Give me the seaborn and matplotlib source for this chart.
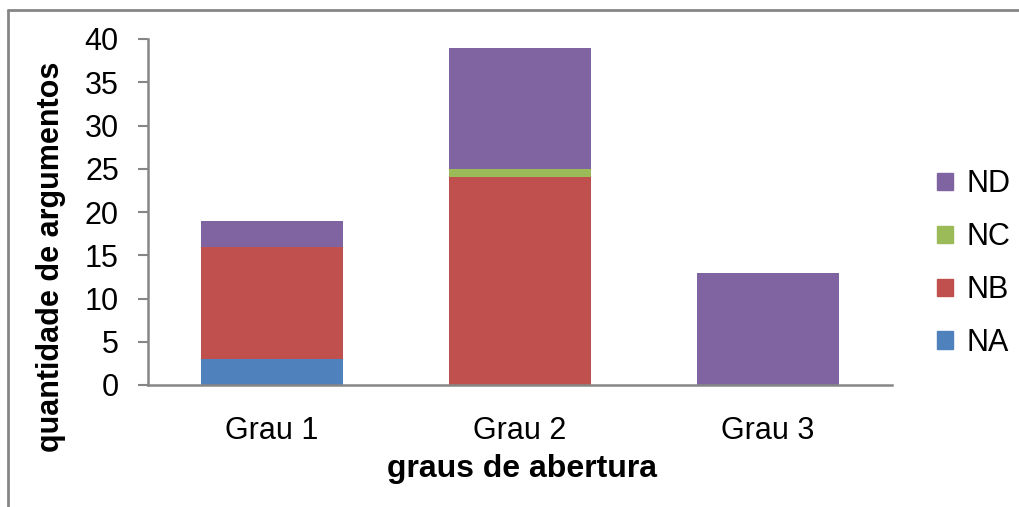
import matplotlib
matplotlib.use("Agg")
import matplotlib.pyplot as plt
from matplotlib.lines import Line2D
from matplotlib.patches import Patch
import seaborn as sns
import pandas as pd
import numpy as np

categories = ["Grau 1", "Grau 2", "Grau 3"]
series = ["NA", "NB", "NC", "ND"]
na = [3, 0, 0]
nb = [13, 24, 0]
nc = [0, 1, 0]
nd = [3, 14, 13]
colors = {"NA": "#4F81BD", "NB": "#C0504D", "NC": "#9BBB59", "ND": "#8064A2"}

df = pd.DataFrame({"grau": categories, "NA": na, "NB": nb, "NC": nc, "ND": nd})

sns.set_style("white")
plt.rcParams["font.family"] = ["Liberation Sans", "DejaVu Sans"]
plt.rcParams["text.color"] = "black"
plt.rcParams["axes.labelcolor"] = "black"
plt.rcParams["xtick.color"] = "black"
plt.rcParams["ytick.color"] = "black"
grey = "#868686"

fig = plt.figure(figsize=(10.19, 5.07), dpi=100)
ax = fig.add_axes([148 / 1019, 1 - 385 / 507, (892 - 148) / 1019, (385 - 39) / 507])

bottom = np.zeros(len(categories))
for s in series:
    sns.barplot(data=df, x="grau", y=s, color=colors[s], width=0.57,
                bottom=bottom, ax=ax, saturation=1, linewidth=0)
    bottom = bottom + df[s].values

ax.set_ylim(0, 40)
ax.set_xlim(-0.5, 2.5)
ax.set_yticks(range(0, 41, 5))
ax.tick_params(axis="y", labelsize=22, length=7, width=1.5, color=grey, left=True, pad=14)
ax.tick_params(axis="x", labelsize=22, length=0, pad=22)
for side in ["top", "right"]:
    ax.spines[side].set_visible(False)
for side in ["left", "bottom"]:
    ax.spines[side].set_color(grey)
    ax.spines[side].set_linewidth(1.8)

ax.set_ylabel("quantidade de argumentos", fontsize=22, fontweight="bold", va="center")
ax.yaxis.set_label_coords(-0.131, 0.37)
ax.set_xlabel("graus de abertura", fontsize=23, fontweight="bold", va="top")
ax.xaxis.set_label_coords(0.503, -0.2)

handles = [Patch(color=colors[s], label=s) for s in reversed(series)]
fig.legend(handles=handles, loc="center left", bbox_to_anchor=(0.92, 0.48),
           frameon=False, fontsize=22, handlelength=0.5, handleheight=0.5,
           handletextpad=0.45, labelspacing=0.75, borderaxespad=0, borderpad=0)

# outer chart frame
fig.add_artist(Line2D([8 / 1019, 8 / 1019], [0, 1 - 10 / 507], color=grey, lw=2))
fig.add_artist(Line2D([8 / 1019, 1], [1 - 10 / 507, 1 - 10 / 507], color=grey, lw=2))

fig.savefig("out.png", dpi=100)
